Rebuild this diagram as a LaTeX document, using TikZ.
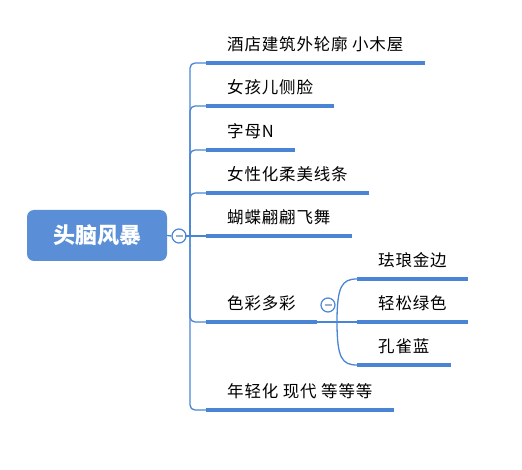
\documentclass[tikz,border=0pt]{standalone}
\usepackage{fontspec}
\newfontfamily\cjk[LetterSpace=5]{Noto Sans CJK SC}
\newfontfamily\cjkroot{Noto Sans CJK SC}
\definecolor{mindblue}{HTML}{5A8FD8}
\definecolor{mindline}{HTML}{4A85D5}
\definecolor{mindgray}{HTML}{9BB0CC}

\begin{document}
\begin{tikzpicture}[x=1pt, y=-1pt,
    rootbox/.style={fill=mindblue, draw=none, rounded corners=7pt, minimum width=140pt, minimum height=51pt,
                    inner sep=0pt, text=white, font=\cjkroot\bfseries\fontsize{22}{22}\selectfont},
    topic/.style={anchor=south west, inner xsep=21pt, inner ysep=9pt, text height=12pt, text depth=3pt,
                  font=\cjk\fontsize{16.5}{16.5}\selectfont},
    underline/.style={draw=mindline, line width=3.6pt},
    branch/.style={draw=mindline, line width=1.3pt, rounded corners=5pt},
    fork/.style={draw=mindline, line width=1.3pt},
    fold/.style={circle, draw=mindline, fill=white, line width=1.2pt, minimum size=14pt, inner sep=0pt,
                 path picture={\draw[mindgray, line width=1.2pt] ([xshift=-3.5pt]path picture bounding box.center)
                               -- ([xshift=3.5pt]path picture bounding box.center);}}
  ]
    \useasboundingbox (0,0) rectangle (522,470);

    % central topic
    \node[rootbox] (root) at (97,235.5) {头脑风暴};
    \node[fold] (rootfold) at (179,236) {};
    \coordinate (trunk) at (190,236);

    % main branches
    \node[topic] (hotel)     at (206,63)  {酒店建筑外轮廓 小木屋};
    \node[topic] (girl)      at (206,106) {女孩儿侧脸};
    \node[topic] (letter)    at (206,150) {字母N};
    \node[topic] (curves)    at (206,193) {女性化柔美线条};
    \node[topic] (butterfly) at (206,236) {蝴蝶翩翩飞舞};
    \node[topic] (colour)    at (206,322) {色彩多彩};
    \node[topic] (young)     at (206,410) {年轻化 现代 等等等};

    % sub branches of colour
    \node[fold] (colourfold) at (328,305) {};
    \coordinate (split) at (337,322);
    \node[topic] (enamel)  at (357,279) {珐琅金边};
    \node[topic] (green)   at (357,322) {轻松绿色};
    \node[topic] (peacock) at (357,365) {孔雀蓝};

    \draw[branch] (root.east) -- (rootfold.west);
    \draw[branch] (rootfold.east) -- (trunk) -- (butterfly.south west);
    \foreach \t in {hotel,girl,letter,curves,colour,young}
      \draw[branch] (trunk) |- (\t.south west);

    \draw[fork] (colour.south east) -- (split) -- (green.south west);
    \draw[fork] (split) .. controls (337,286) and (342,279) .. (enamel.south west);
    \draw[fork] (split) .. controls (337,358) and (342,365) .. (peacock.south west);

    \foreach \t in {hotel,girl,letter,curves,butterfly,colour,young,enamel,green,peacock}
      \draw[underline] (\t.south west) -- (\t.south east);
  \end{tikzpicture}
\end{document}
